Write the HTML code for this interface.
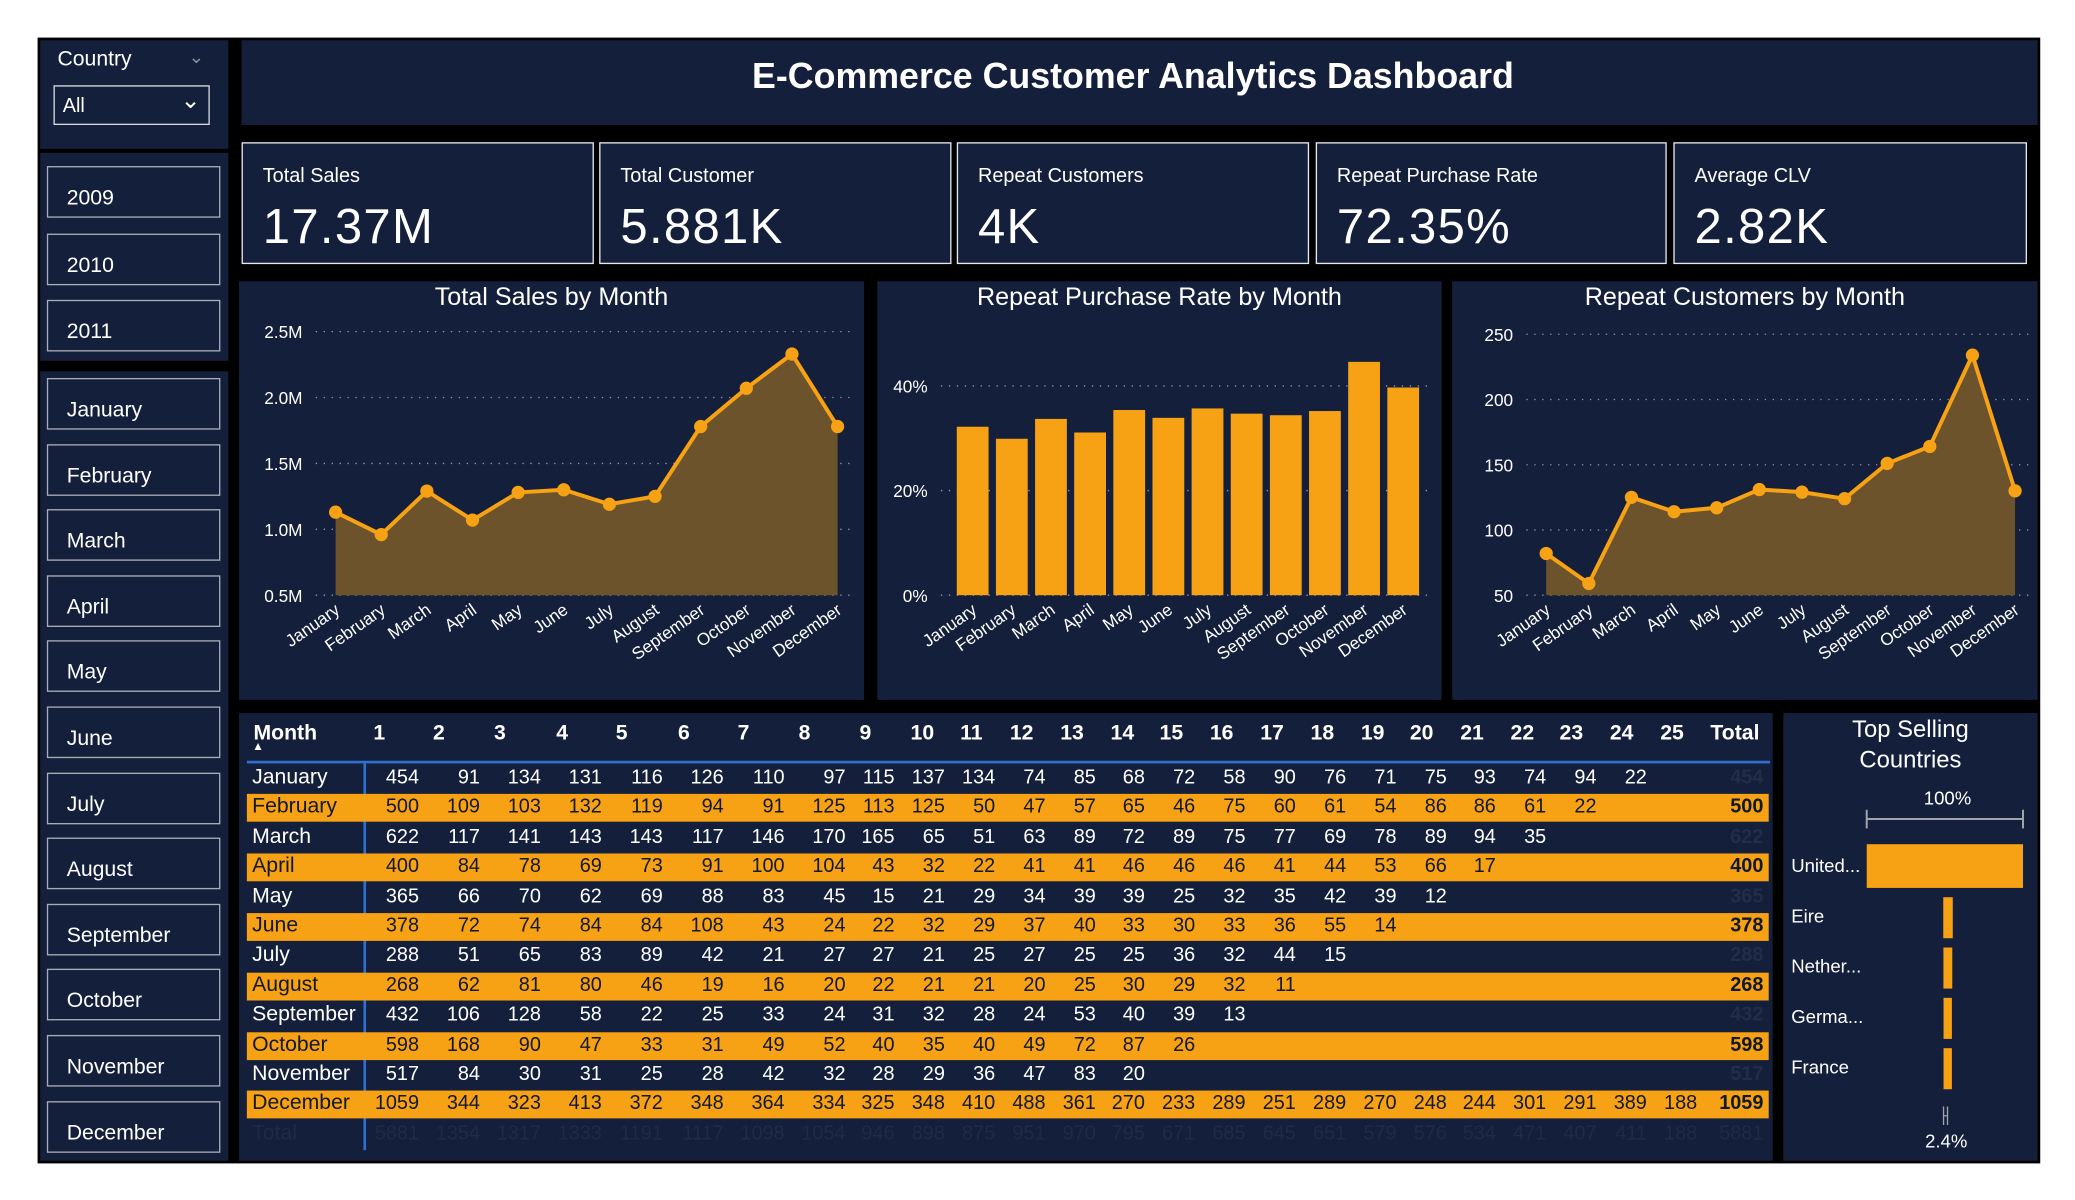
<!DOCTYPE html>
<html><head><meta charset="utf-8">
<style>
*{margin:0;padding:0;box-sizing:border-box}
html,body{width:2075px;height:1200px;background:#fff;overflow:hidden;font-family:"Liberation Sans",sans-serif}
#wrap{position:absolute;left:0;top:0;width:1560px;height:902px;transform:translate(0.5px,0.5px) scale(1.3245);transform-origin:0 0}
.abs{position:absolute}
.panel{position:absolute;background:#14203b}
.btn{position:absolute;left:35px;width:131px;height:39px;border:1.5px solid #a9adb6;color:#fff;font-size:16px;padding-left:14px;display:flex;align-items:flex-end;padding-bottom:4px}
.kpi{position:absolute;top:107px;height:92px;border:1.5px solid #e6e8ec;background:#14203b;color:#fff}
.kpi .l{position:absolute;left:15px;top:16px;font-size:15px}
.kpi .v{position:absolute;left:15px;top:42px;font-size:37px;font-family:"Liberation Sans Narrow","Liberation Sans",sans-serif;letter-spacing:1px}
.t{position:absolute;white-space:nowrap;font-family:"Liberation Sans Narrow","Liberation Sans",sans-serif}
</style></head><body>
<div id="wrap">
<div class="abs" style="left:28px;top:28px;width:1512px;height:850px;background:#000"></div>

<div class="panel" style="left:30px;top:30px;width:142px;height:82px">
 <div class="abs" style="left:13px;top:6px;color:#fff;font-size:16px">Country</div>
 <div class="abs" style="left:112px;top:4px;color:#8a8f9a;font-size:14px">&#8964;</div>
 <div class="abs" style="left:10px;top:34px;width:118px;height:30px;border:1.5px solid #d8dade;color:#fff;font-size:15px;padding:6px 0 0 6px">All<span class="abs" style="right:6px;top:0px;font-size:18px">&#8964;</span></div>
</div>
<div class="panel" style="left:30px;top:115px;width:142px;height:157px"></div>
<div class="panel" style="left:30px;top:280px;width:142px;height:596px"></div>
<div id="side"></div>

<div class="panel" style="left:182px;top:30px;width:1356px;height:64px">
 <div class="abs" style="left:0;width:1346px;top:12px;text-align:center;color:#fff;font-size:27px;font-weight:bold">E-Commerce Customer Analytics Dashboard</div>
</div>

<div class="kpi" style="left:182px;width:266px"><div class="l">Total Sales</div><div class="v">17.37M</div></div>
<div class="kpi" style="left:452px;width:266px"><div class="l">Total Customer</div><div class="v">5.881K</div></div>
<div class="kpi" style="left:722px;width:266px"><div class="l">Repeat Customers</div><div class="v">4K</div></div>
<div class="kpi" style="left:993px;width:265px"><div class="l">Repeat Purchase Rate</div><div class="v">72.35%</div></div>
<div class="kpi" style="left:1263px;width:267px"><div class="l">Average CLV</div><div class="v">2.82K</div></div>

<div class="panel" style="left:180px;top:212px;width:472px;height:316px"></div>
<div class="panel" style="left:662px;top:212px;width:426px;height:316px"></div>
<div class="panel" style="left:1096px;top:212px;width:442px;height:316px"></div>
<div class="panel" style="left:180px;top:538px;width:1158px;height:338px"></div>
<div class="panel" style="left:1346px;top:538px;width:192px;height:338px"></div>

<svg id="charts" class="abs" style="left:0;top:0" width="1560" height="902"></svg>
<div id="table"></div>
</div>

<script>
const months=["January","February","March","April","May","June","July","August","September","October","November","December"];
const years=["2009","2010","2011"];
const salesM=[1.13,0.96,1.29,1.07,1.28,1.30,1.19,1.25,1.78,2.07,2.33,1.78];
const salesTicks=["0.5M","1.0M","1.5M","2.0M","2.5M"];
const salesTickVals=[0.5,1.0,1.5,2.0,2.5];
const ratePct=[32.2,29.9,33.7,31.1,35.4,33.9,35.7,34.7,34.4,35.2,44.6,39.7];
const rateTicks=["0%","20%","40%"];
const rateTickVals=[0,20,40];
const repeatCust=[82,59,125,114,117,131,129,124,151,164,234,130];
const repeatTicks=["50","100","150","200","250"];
const repeatTickVals=[50,100,150,200,250];
const countries=["United...","Eire","Nether...","Germa...","France"];
const countryPct=[100,2.9,2.7,2.5,2.4];
const cohortRows=[
[454,91,134,131,116,126,110,97,115,137,134,74,85,68,72,58,90,76,71,75,93,74,94,22],
[500,109,103,132,119,94,91,125,113,125,50,47,57,65,46,75,60,61,54,86,86,61,22],
[622,117,141,143,143,117,146,170,165,65,51,63,89,72,89,75,77,69,78,89,94,35],
[400,84,78,69,73,91,100,104,43,32,22,41,41,46,46,46,41,44,53,66,17],
[365,66,70,62,69,88,83,45,15,21,29,34,39,39,25,32,35,42,39,12],
[378,72,74,84,84,108,43,24,22,32,29,37,40,33,30,33,36,55,14],
[288,51,65,83,89,42,21,27,27,21,25,27,25,25,36,32,44,15],
[268,62,81,80,46,19,16,20,22,21,21,20,25,30,29,32,11],
[432,106,128,58,22,25,33,24,31,32,28,24,53,40,39,13],
[598,168,90,47,33,31,49,52,40,35,40,49,72,87,26],
[517,84,30,31,25,28,42,32,28,29,36,47,83,20],
[1059,344,323,413,372,348,364,334,325,348,410,488,361,270,233,289,251,289,270,248,244,301,291,389,188]
];
const cohortTotals=[5881,1354,1317,1333,1191,1117,1098,1054,946,898,875,951,970,795,671,685,645,651,579,576,534,471,407,411,188];

const NS="http://www.w3.org/2000/svg";
const svg=document.getElementById('charts');
function S(tag,attrs,parent){const e=document.createElementNS(NS,tag);for(const k in attrs)e.setAttribute(k,attrs[k]);(parent||svg).appendChild(e);return e;}
function T(x,y,txt,size,anchor,fill,extra){const e=S('text',Object.assign({x:x,y:y,'font-size':size,'text-anchor':anchor||'start',fill:fill||'#fff','font-family':'"Liberation Sans Narrow","Liberation Sans",sans-serif'},extra||{}));e.textContent=txt;return e;}
const ORANGE="#f7a114";

const side=document.getElementById('side');
years.forEach((y,i)=>{const d=document.createElement('div');d.className='btn';d.style.top=(125+i*50.5)+'px';d.textContent=y;


side.appendChild(d);});
months.forEach((m,i)=>{const d=document.createElement('div');d.className='btn';d.style.top=(285+i*49.6)+'px';d.textContent=m;


side.appendChild(d);});

function chartFrame(title,cx,x0,x1,y0,y1,vmin,vmax,ticks,tickVals,labX){
  const t=T(cx,230,title,19,'middle','#fff');
  
  
  const ys=v=>y0-(v-vmin)/(vmax-vmin)*(y0-y1);
  tickVals.forEach((v,i)=>{
    const g=S('line',{x1:labX+10,x2:x1,y1:ys(v),y2:ys(v),stroke:'#8f95a3','stroke-width':1,'stroke-dasharray':'1 5'});
    
    
    const l=T(labX,ys(v)+5,ticks[i],13,'end','#fff');
    
    
  });
  return ys;
}
function xLabels(xs,y){
  months.forEach((m,i)=>{const l=T(xs(i)+4,y,m,13,'end','#fff',{transform:`rotate(-35 ${xs(i)+4} ${y})`});
  
  });
}
function areaChart(vals,x0,x1,ys,base,name){
  const xs=i=>x0+i*(x1-x0)/(vals.length-1);
  let d=`M${xs(0)},${ys(base)}`;vals.forEach((v,i)=>d+=` L${xs(i)},${ys(v)}`);d+=` L${xs(vals.length-1)},${ys(base)}Z`;
  const a=S('path',{d:d,fill:'#6c532b'});
  
  
  const ln=S('polyline',{points:vals.map((v,i)=>xs(i)+','+ys(v)).join(' '),fill:'none',stroke:ORANGE,'stroke-width':3});
  
  
  vals.forEach((v,i)=>{const c=S('circle',{cx:xs(i),cy:ys(v),r:5,fill:ORANGE});
  
  });
  return xs;
}
let ys1=chartFrame('Total Sales by Month',416,253,645,449,250,0.5,2.5,salesTicks,salesTickVals,228);
let xs1=areaChart(salesM,253,632,ys1,0.5,'sales');
xLabels(xs1,462);
let ys2=chartFrame('Repeat Purchase Rate by Month',875,722,1080,449,291,0,40,rateTicks,rateTickVals,700);
const xs2=i=>734+i*29.55;
ratePct.forEach((v,i)=>{const b=S('rect',{x:xs2(i)-12,y:ys2(v),width:24,height:ys2(0)-ys2(v),fill:ORANGE});

});
xLabels(xs2,462);
let ys3=chartFrame('Repeat Customers by Month',1317,1167,1532,449,252,50,250,repeatTicks,repeatTickVals,1142);
let xs3=areaChart(repeatCust,1167,1521,ys3,50,'repeat');
xLabels(xs3,462);

T(1442,556,'Top Selling',18,'middle','#fff',{'font-family':'"Liberation Sans",sans-serif'});
T(1442,579,'Countries',18,'middle','#fff',{'font-family':'"Liberation Sans",sans-serif'});
T(1470,607,'100%',14,'middle','#fff',{'font-family':'"Liberation Sans",sans-serif'});
S('path',{d:'M1409,611 V625 M1409,618 H1527 M1527,611 V625',stroke:'#a0a4ad','stroke-width':1.5,fill:'none'});
const cx0=1409,cw=118,cmid=1468;
countries.forEach((c,i)=>{
  const y=637+i*38, h=i==0?33:31;
  const w=Math.max(3,cw*countryPct[i]/100);
  const l=T(1352,y+21,c,14,'start','#fff',{'font-family':'"Liberation Sans",sans-serif'});
  
  
  const b=S('rect',{x:i==0?cx0:cmid-w/2+0.5,y:y+(i==0?0:2),width:i==0?w:w*2.1,height:h,fill:ORANGE});
  
  
});
S('path',{d:'M1467,835 V849 M1470,835 V849 M1467,842 H1470',stroke:'#a0a4ad','stroke-width':1,fill:'none'});
T(1469,866,'2.4%',14,'middle','#fff',{'font-family':'"Liberation Sans",sans-serif'});

const tbl=document.getElementById('table');
const colX=[316,362,408,454,500,546,592,638,675,713,751,789,827,864,902,940,978,1016,1054,1092,1129,1167,1205,1243,1281];
const hdrX=[286,331,377,424,469,516,561,607,653,696,733,771,809,847,884,922,960,998,1036,1073,1111,1149,1186,1224,1262];
function cell(txt,x,y,opts){const d=document.createElement('div');d.className='t';d.textContent=txt;
 d.style.top=(y-10)+'px';d.style.fontSize=(opts.size||15)+'px';d.style.color=opts.color||'#fff';
 if(opts.bold)d.style.fontWeight='bold';
 if(opts.align=='right'){d.style.right=(1560-x)+'px';}
 else if(opts.align=='center'){d.style.left=(x-20)+'px';d.style.width='40px';d.style.textAlign='center';}
 else d.style.left=x+'px';
 
 
 tbl.appendChild(d);return d;}
cell('Month',191,555,{bold:true,size:16,name:'month-column-header'});
cell('▲',190,568,{size:9,name:'sort-indicator'});
hdrX.forEach((x,i)=>cell(String(i+1),x,555,{bold:true,size:16,align:'center',name:'day-column-header'}));
cell('Total',1291,555,{bold:true,size:16,name:'total-column-header'});
const line=document.createElement('div');line.className='abs';line.style.cssText='left:186px;top:574px;width:1150px;height:2px;background:#2f6fd0';tbl.appendChild(line);
const vline=document.createElement('div');vline.className='abs';vline.style.cssText='left:274px;top:576px;width:1.5px;height:292px;background:#2f6fd0';tbl.appendChild(vline);
cohortRows.forEach((row,r)=>{
  const y=588+r*22.4, odd=r%2==1;
  if(odd){const bg=document.createElement('div');bg.className='abs';bg.style.cssText=`left:186px;top:${y-11}px;width:1149px;height:21px;background:${ORANGE}`;
  
  
  tbl.appendChild(bg);}
  const col=odd?'#111827':'#fff';
  cell(months[r],190,y,{size:16,color:col,name:'month-row-label'});
  row.forEach((v,i)=>cell(String(v),colX[i],y,{align:'right',color:col}));
  cell(String(row[0]),1331,y,{align:'right',bold:true,color:odd?'#111827':'#222d48',name:'row-total'});
});
const ty=588+12*22.4;
cell('Total',190,ty,{size:16,color:'#1f2a45',name:'total-row-label'});
cohortTotals.forEach((v,i)=>cell(String(v),colX[i],ty,{align:'right',color:'#1f2a45',name:'total-row-cell'}));
cell('5881',1331,ty,{align:'right',color:'#1f2a45',name:'grand-total'});
</script>
</body></html>
